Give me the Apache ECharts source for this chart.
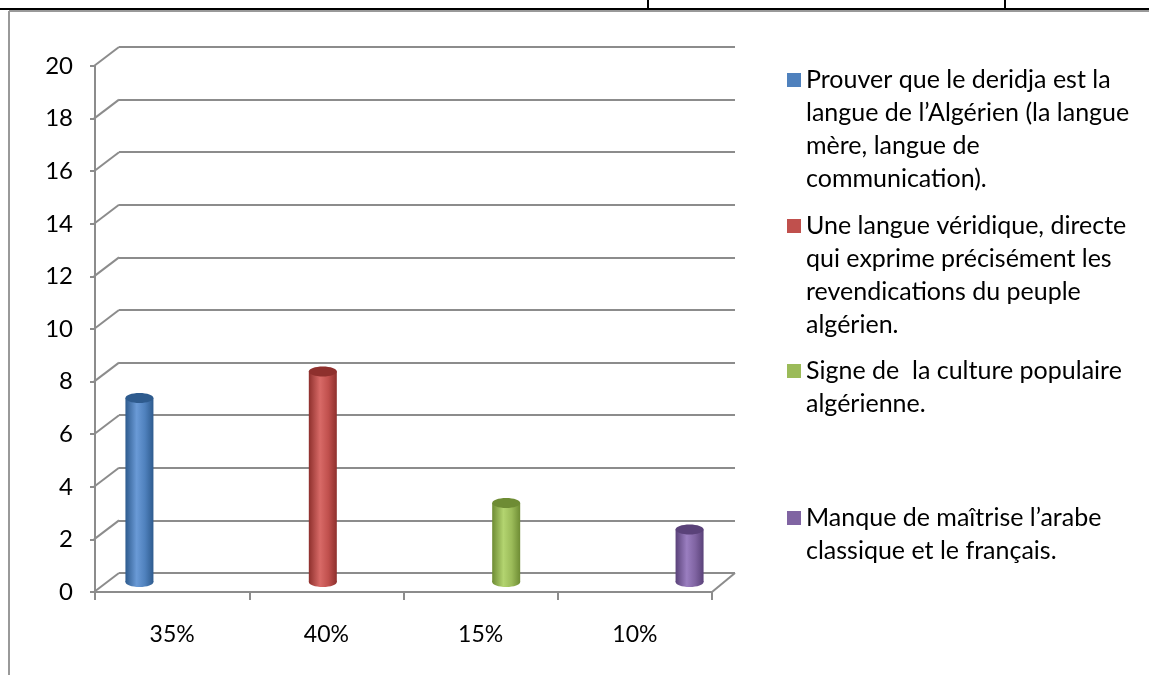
<!DOCTYPE html>
<html>
<head>
<meta charset="utf-8">
<script src="https://cdn.jsdelivr.net/npm/echarts@6/dist/echarts.min.js"></script>
<style>
  html, body { margin: 0; padding: 0; background: #fff; }
  #chart { width: 1149px; height: 675px; }
</style>
</head>
<body>
<div id="chart"></div>
<script>
// data
const categories = ['35%', '40%', '15%', '10%'];
const seriesNames = [
  'Prouver que le deridja est la\nlangue de l\u2019Algérien (la langue\nmère, langue de\ncommunication).',
  'Une langue véridique, directe\nqui exprime précisément les\nrevendications du peuple\nalgérien.',
  'Signe de  la culture populaire\nalgérienne.',
  'Manque de maîtrise l\u2019arabe\nclassique et le français.'
];
const counts = [7, 8, 3, 2];
const yTicks = [0, 2, 4, 6, 8, 10, 12, 14, 16, 18, 20];

const colors = ['#4F81BD', '#C0504D', '#9BBB59', '#8064A2'];
const darks = ['#2E5B8E', '#8E302D', '#6E8C34', '#5A4279'];
const lights = ['#6A9AD6', '#D86A67', '#B3D470', '#9A7EC0'];
const legendFirstLine = [80, 226, 371, 518];
const LH = 33;

const gray = '#8C8C8C';
const font = 'Lato, "Open Sans", sans-serif';

let myChart = echarts.init(document.getElementById('chart'));

function cylinder(params, api) {
  const cat = api.value(0);
  const v = api.value(1);
  const top = api.coord([cat, v]);
  const base = api.coord([cat, 0]);
  const band = api.size([1, 0])[0];
  const i = params.seriesIndex;
  const cx = top[0] + (i - 1.5) * band * 0.185;
  const w = 28, ry = 5;
  const grad = new echarts.graphic.LinearGradient(0, 0, 1, 0, [
    { offset: 0, color: darks[i] },
    { offset: 0.4, color: lights[i] },
    { offset: 0.7, color: colors[i] },
    { offset: 1, color: darks[i] }
  ]);
  return {
    type: 'group',
    children: [
      { type: 'ellipse', shape: { cx: cx, cy: base[1], rx: w / 2, ry: ry }, style: { fill: grad } },
      { type: 'rect', shape: { x: cx - w / 2, y: top[1], width: w, height: base[1] - top[1] }, style: { fill: grad } },
      { type: 'ellipse', shape: { cx: cx, cy: top[1], rx: w / 2, ry: ry }, style: { fill: darks[i] } }
    ]
  };
}

function connectors(params, api) {
  const v = api.value(0);
  const p = api.coord([0, v]);
  const band = api.size([1, 0])[0];
  const x0 = p[0] - band / 2;
  const kids = [
    { type: 'line', shape: { x1: x0 - 1, y1: p[1], x2: x0 + 24, y2: p[1] - 19 }, style: { stroke: gray, lineWidth: 2 } }
  ];
  if (v === 0) {
    const x1 = x0 + band * categories.length;
    kids.push({ type: 'line', shape: { x1: x1, y1: p[1], x2: x1 + 23, y2: p[1] - 19 }, style: { stroke: gray, lineWidth: 2 } });
  }
  return { type: 'group', children: kids };
}

const yBase = { type: 'value', min: 0, max: 20, interval: 2 };

const series = seriesNames.map((name, i) => ({
  name: name,
  type: 'custom',
  xAxisIndex: 2,
  yAxisIndex: 2,
  renderItem: cylinder,
  itemStyle: { color: colors[i] },
  data: [[i, counts[i]]],
  z: 5
}));
series.push({
  type: 'custom',
  xAxisIndex: 1,
  yAxisIndex: 1,
  renderItem: connectors,
  data: yTicks.map(v => [v]),
  encode: { y: 0 },
  silent: true,
  z: 3
});

// blank lines in front of the text keep the icon level with the first line
const legends = seriesNames.map((name, i) => {
  const n = name.split('\n').length;
  return {
    data: [name],
    left: 787,
    top: legendFirstLine[i] - LH * (2 * n - 1) / 2,
    orient: 'vertical',
    icon: 'rect',
    itemWidth: 14,
    itemHeight: 14,
    itemGap: 7,
    padding: 0,
    selectedMode: false,
    formatter: t => '\n'.repeat(n - 1) + t,
    textStyle: {
      fontFamily: font,
      fontSize: 25,
      color: '#000',
      lineHeight: LH
    }
  };
});

const options = {
  backgroundColor: '#fff',
  animation: false,
  legend: legends,
  grid: [
    { left: 119, right: 414, top: 47, bottom: 102 },
    { left: 95, right: 437, top: 66, bottom: 83 },
    { left: 105, right: 425, top: 56, bottom: 93 }
  ],
  xAxis: [
    { type: 'category', gridIndex: 0, data: categories, show: false },
    {
      type: 'category', gridIndex: 1, data: categories,
      axisLine: { lineStyle: { color: gray, width: 2 } },
      axisTick: { show: true, length: 8, lineStyle: { color: gray, width: 2 } },
      axisLabel: { margin: 31, fontFamily: font, fontSize: 23, color: '#000' }
    },
    { type: 'category', gridIndex: 2, data: categories, show: false }
  ],
  yAxis: [
    Object.assign({}, yBase, {
      gridIndex: 0,
      axisLine: { show: false }, axisTick: { show: false }, axisLabel: { show: false },
      splitLine: { show: true, lineStyle: { color: gray, width: 2 } }
    }),
    Object.assign({}, yBase, {
      gridIndex: 1,
      axisLine: { show: true, lineStyle: { color: gray, width: 2 } },
      axisTick: { show: true, length: 5, lineStyle: { color: gray, width: 2 } },
      axisLabel: { margin: 22, fontFamily: font, fontSize: 24, color: '#000' },
      splitLine: { show: false }
    }),
    Object.assign({}, yBase, { gridIndex: 2, show: false, splitLine: { show: false } })
  ],
  series: series,
  graphic: [
    { type: 'line', shape: { x1: 0, y1: 9, x2: 1149, y2: 9 }, style: { stroke: '#000', lineWidth: 2 } },
    { type: 'line', shape: { x1: 648, y1: 0, x2: 648, y2: 9 }, style: { stroke: '#000', lineWidth: 2 } },
    { type: 'line', shape: { x1: 1005, y1: 0, x2: 1005, y2: 9 }, style: { stroke: '#000', lineWidth: 2 } },
    { type: 'line', shape: { x1: 9, y1: 11, x2: 1149, y2: 11 }, style: { stroke: '#999', lineWidth: 2 } },
    { type: 'line', shape: { x1: 9, y1: 11, x2: 9, y2: 675 }, style: { stroke: '#999', lineWidth: 2 } }
  ]
};

myChart.setOption(options);
</script>
</body>
</html>
